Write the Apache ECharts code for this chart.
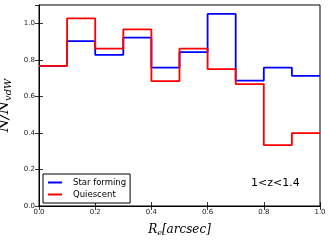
<!DOCTYPE html>
<html><head><meta charset="utf-8">
<script src="https://cdn.jsdelivr.net/npm/echarts@6/dist/echarts.min.js"></script>
<style>html,body{margin:0;padding:0;background:#fff}#c{width:332px;height:242px}</style>
</head><body><div id="c"></div>
<script>
const binEdges = [0.0, 0.1, 0.2, 0.3, 0.4, 0.5, 0.6, 0.7, 0.8, 0.9, 1.0];
const starForming = [0.767, 0.902, 0.827, 0.921, 0.757, 0.842, 1.051, 0.686, 0.757, 0.712];
const quiescent = [0.767, 1.027, 0.861, 0.967, 0.683, 0.861, 0.749, 0.667, 0.333, 0.399];
const xTicks = [0.0, 0.2, 0.4, 0.6, 0.8, 1.0];
const yTicks = [0.0, 0.2, 0.4, 0.6, 0.8, 1.0];

function stepData(vals) {
  const d = vals.map((v, i) => [binEdges[i], v]);
  d.push([binEdges[binEdges.length - 1], vals[vals.length - 1]]);
  return d;
}
const chart = echarts.init(document.getElementById('c'), null, {renderer: 'canvas'});
const tickLab = {fontSize: 7, color: '#222', fontFamily: 'DejaVu Sans', formatter: v => v.toFixed(1)};
const axLine = {show: true, lineStyle: {color: '#000', width: 1}};
const tick = {show: true, inside: true, length: 4, lineStyle: {color: '#000', width: 0.8}};
chart.setOption({
  animation: false,
  grid: {left: 39, right: 12, top: 5, bottom: 36, show: true, borderColor: '#000', borderWidth: 1,
         containLabel: false, outerBoundsMode: 'none'},
  xAxis: [
    {type: 'value', min: 0, max: 1, interval: 0.2, axisLine: axLine, axisTick: tick, splitLine: {show: false},
     axisLabel: Object.assign({margin: 3}, tickLab),
     name: '{i|R}{s|e}{i|[arcsec]}', nameLocation: 'middle', nameGap: 17,
     nameTextStyle: {rich: {
       i: {fontFamily: 'DejaVu Serif', fontStyle: 'italic', fontSize: 12, color: '#000'},
       s: {fontFamily: 'DejaVu Serif', fontStyle: 'italic', fontSize: 8, color: '#000', verticalAlign: 'bottom', padding: [6, 0, 0, 0]}
     }}},
    {type: 'value', position: 'top', min: 0, max: 1, interval: 0.2, axisLine: axLine, axisTick: tick,
     axisLabel: {show: false}, splitLine: {show: false}}
  ],
  yAxis: [
    {type: 'value', min: 0, max: 1.1, interval: 0.2, axisLine: axLine, axisTick: tick, splitLine: {show: false},
     axisLabel: Object.assign({margin: 4, showMaxLabel: false}, tickLab),
     name: '{i|N/N}{s|vdW}', nameLocation: 'middle', nameGap: 21, nameRotate: 90,
     nameTextStyle: {rich: {
       i: {fontFamily: 'DejaVu Serif', fontStyle: 'italic', fontSize: 15, color: '#000'},
       s: {fontFamily: 'DejaVu Serif', fontStyle: 'italic', fontSize: 10, color: '#000', verticalAlign: 'bottom', padding: [7, 0, 0, 0]}
     }}},
    {type: 'value', position: 'right', min: 0, max: 1.1, interval: 0.2, axisLine: axLine, axisTick: tick,
     axisLabel: {show: false}, splitLine: {show: false}}
  ],
  legend: {
    left: 43, top: 174, orient: 'vertical', itemWidth: 14, itemHeight: 2, itemGap: 3,
    backgroundColor: '#fff', borderColor: '#000', borderWidth: 1, borderRadius: 0, padding: [4, 4, 4, 5],
    textStyle: {fontSize: 8.5, fontFamily: 'DejaVu Sans', color: '#000', padding: [0, 0, 0, 6]},
    icon: 'rect',
    data: ['Star forming', 'Quiescent']
  },
  graphic: [{type: 'text', left: 251, top: 178, style: {text: '1<z<1.4', fontSize: 11, fontFamily: 'DejaVu Sans', fill: '#000'}}],
  series: [
    {name: 'Star forming', type: 'line', step: 'end', data: stepData(starForming), showSymbol: false, symbol: 'none',
     lineStyle: {color: '#0000ff', width: 1.8}, itemStyle: {color: '#0000ff'}},
    {name: 'Quiescent', type: 'line', step: 'end', data: stepData(quiescent), showSymbol: false, symbol: 'none',
     lineStyle: {color: '#ff0000', width: 1.8}, itemStyle: {color: '#ff0000'}}
  ]
});
</script></body></html>
